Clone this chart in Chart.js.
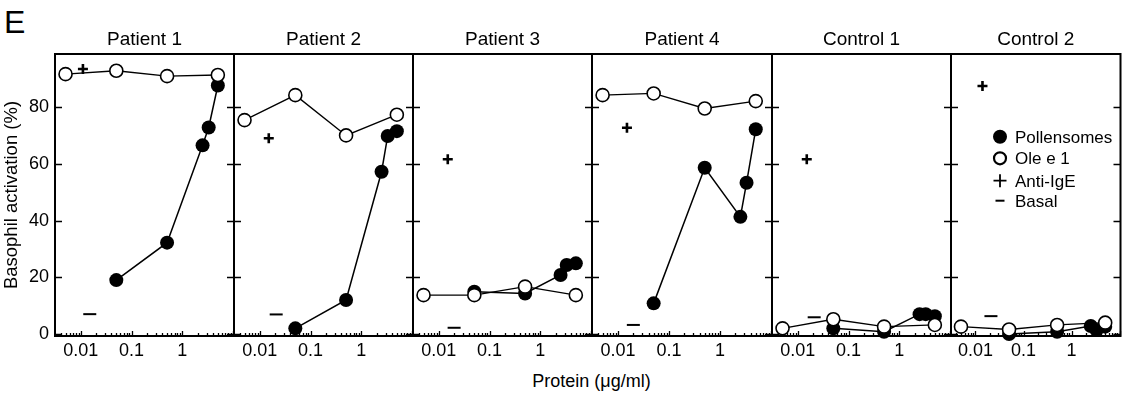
<!DOCTYPE html>
<html>
<head>
<meta charset="utf-8">
<script src="https://cdn.jsdelivr.net/npm/chart.js"></script>
<style>
  body { margin: 0; background: #fff; width: 1129px; height: 398px; overflow: hidden; position: relative;
         font-family: "Liberation Sans", Arial, sans-serif; color: #000; }
  canvas { position: absolute; left: 0; top: 0; }
  #panel-letter { position: absolute; left: 4px; top: 6px; font-size: 32px; line-height: 32px; }
  #x-title { position: absolute; left: 55px; width: 1073px; top: 372px; text-align: center; font-size: 18px; line-height: 18px; }
</style>
</head>
<body>
<div id="panel-letter">E</div>
<div id="x-title">Protein (μg/ml)</div>
<canvas id="p0" width="1129" height="398"></canvas>
<canvas id="p1" width="1129" height="398"></canvas>
<canvas id="p2" width="1129" height="398"></canvas>
<canvas id="p3" width="1129" height="398"></canvas>
<canvas id="p4" width="1129" height="398"></canvas>
<canvas id="p5" width="1129" height="398"></canvas>
<script>
// data
const panelNames = ['Patient 1', 'Patient 2', 'Patient 3', 'Patient 4', 'Control 1', 'Control 2'];
const oleDose = [0.005, 0.05, 0.5, 5];
const pollenDose = [0.05, 0.5, 2.5, 3.3, 5];
const oleValues = [
    [91.6, 92.8, 90.9, 91.3],
    [75.4, 84.2, 70.0, 77.3],
    [13.7, 13.7, 16.7, 13.7],
    [84.2, 84.8, 79.5, 82.1],
    [2.0, 5.2, 2.6, 3.2],
    [2.6, 1.6, 3.2, 4.0],
];
const pollenValues = [
    [19.0, 32.2, 66.5, 72.8, 87.6],
    [2.0, 12.0, 57.2, 69.8, 71.5],
    [14.9, 14.3, 20.8, 24.3, 24.9],
    [10.8, 58.6, 41.3, 53.3, 72.2],
    [2.0, 0.8, 7.0, 7.0, 6.3],
    [0.0, 0.8, 2.8, 1.4, 2.6],
];
const antiIgEDose = [0.011, 0.015, 0.015, 0.015, 0.015, 0.014];
const antiIgE = [93.4, 69.0, 61.6, 72.7, 61.6, 87.4];
const basalDose = [0.015, 0.021, 0.020, 0.020, 0.021, 0.021];
const basal = [7.0, 6.9, 2.2, 3.2, 5.9, 6.3];
const xTickLabels = [0.01, 0.1, 1];
const yTickLabels = [0, 20, 40, 60, 80];

// panel frames (px)
const panelLeft = [55, 234, 413, 592, 772, 951];
const panelRight = [234, 413, 592, 772, 951, 1128];

Chart.defaults.font.family = '"Liberation Sans", Arial, sans-serif';
Chart.defaults.color = '#000';

const frameAndTicks = {
    id: 'frameAndTicks',
    beforeDatasetsDraw(chart) {
        const {ctx, chartArea: a, scales: {x, y}} = chart;
        ctx.save();
        ctx.strokeStyle = '#000';
        ctx.lineWidth = 1.3;
        ctx.beginPath();
        yTickLabels.forEach(v => {
            const py = Math.round(y.getPixelForValue(v)) + 0.5;
            ctx.moveTo(a.left, py); ctx.lineTo(a.left + 7, py);
            ctx.moveTo(a.right, py); ctx.lineTo(a.right - 7, py);
        });
        for (let e = -3; e <= 1; e++) {
            for (let m = 1; m <= 9; m++) {
                const v = m * Math.pow(10, e);
                if (v < x.min || v > x.max) continue;
                const px = Math.round(x.getPixelForValue(v)) + 0.5;
                ctx.moveTo(px, a.bottom);
                ctx.lineTo(px, a.bottom - (m === 1 ? 5 : 3));
            }
        }
        ctx.stroke();
        ctx.lineWidth = 2;
        ctx.strokeRect(a.left, a.top, a.right - a.left, a.bottom - a.top);
        ctx.restore();
    }
};

// legend inside the last panel
const insideLegend = {
    id: 'insideLegend',
    afterDraw(chart) {
        if (!chart.options.plugins.insideLegend.show) return;
        const ctx = chart.ctx;
        const rows = [
            {text: 'Pollensomes', y: 136.7},
            {text: 'Ole e 1', y: 158.3},
            {text: 'Anti-IgE', y: 180.7},
            {text: 'Basal', y: 200.7},
        ];
        const sx = 1000;
        ctx.save();
        ctx.fillStyle = '#000';
        ctx.strokeStyle = '#000';
        ctx.beginPath(); ctx.arc(sx, rows[0].y, 7, 0, Math.PI * 2); ctx.fill();
        ctx.lineWidth = 2.2;
        ctx.beginPath(); ctx.arc(sx, rows[1].y, 6, 0, Math.PI * 2);
        ctx.fillStyle = '#fff'; ctx.fill(); ctx.stroke();
        ctx.lineWidth = 1.8;
        ctx.beginPath();
        ctx.moveTo(sx - 6.5, rows[2].y); ctx.lineTo(sx + 6.5, rows[2].y);
        ctx.moveTo(sx, rows[2].y - 6.5); ctx.lineTo(sx, rows[2].y + 6.5);
        ctx.stroke();
        ctx.lineWidth = 2;
        ctx.beginPath();
        ctx.moveTo(sx - 4.5, rows[3].y); ctx.lineTo(sx + 4.5, rows[3].y);
        ctx.stroke();
        ctx.fillStyle = '#000';
        ctx.font = '17px "Liberation Sans", Arial, sans-serif';
        ctx.textBaseline = 'alphabetic';
        rows.forEach(r => ctx.fillText(r.text, 1015, r.y + 6));
        ctx.restore();
    }
};

panelNames.forEach((name, i) => {
    const first = i === 0;
    new Chart(document.getElementById('p' + i), {
        type: 'line',
        data: {
            datasets: [
                {
                    label: 'Ole e 1',
                    data: oleDose.map((d, j) => ({x: d, y: oleValues[i][j]})),
                    borderColor: '#000',
                    borderWidth: 1.3,
                    pointRadius: 6.5,
                    pointBackgroundColor: '#fff',
                    pointBorderColor: '#000',
                    pointBorderWidth: 1.6,
                    order: 0,
                },
                {
                    label: 'Pollensomes',
                    data: pollenDose.map((d, j) => ({x: d, y: pollenValues[i][j]})),
                    borderColor: '#000',
                    borderWidth: 1.5,
                    pointRadius: 7,
                    pointBackgroundColor: '#000',
                    pointBorderColor: '#000',
                    pointBorderWidth: 0,
                    order: 1,
                },
                {
                    label: 'Anti-IgE',
                    data: [{x: antiIgEDose[i], y: antiIgE[i]}],
                    showLine: false,
                    pointStyle: 'cross',
                    pointRadius: 5,
                    pointBorderColor: '#000',
                    pointBorderWidth: 2.6,
                    order: 2,
                },
                {
                    label: 'Basal',
                    data: [{x: basalDose[i], y: basal[i]}],
                    showLine: false,
                    pointStyle: 'line',
                    pointRadius: 6.5,
                    pointBorderColor: '#000',
                    pointBorderWidth: 2,
                    order: 3,
                },
            ]
        },
        options: {
            responsive: false,
            animation: false,
            devicePixelRatio: 1,
            clip: false,
            layout: {
                padding: {left: first ? 0 : panelLeft[i], right: 1129 - panelRight[i], top: 28.2, bottom: 0}
            },
            plugins: {
                legend: {display: false},
                tooltip: {enabled: false},
                title: {
                    display: true,
                    text: name,
                    fullSize: false,
                    font: {size: 19, weight: 'normal'},
                    padding: {top: 0, bottom: 3},
                },
                insideLegend: {show: i === panelNames.length - 1},
            },
            scales: {
                x: {
                    type: 'logarithmic',
                    min: 0.0031,
                    max: 10.4,
                    grid: {display: false, drawTicks: false},
                    border: {display: false},
                    ticks: {
                        autoSkip: false,
                        maxRotation: 0,
                        padding: 4,
                        font: {size: 18},
                        callback: v => String(v),
                    },
                    afterBuildTicks: s => { s.ticks = xTickLabels.map(v => ({value: v})); },
                    afterFit: s => { s.height = 62; s.paddingLeft = 0; s.paddingRight = 0; },
                },
                y: {
                    display: first,
                    min: -0.7,
                    max: 98.7,
                    grid: {display: false, drawTicks: false},
                    border: {display: false},
                    ticks: {padding: 6, font: {size: 18}},
                    afterBuildTicks: s => { s.ticks = yTickLabels.map(v => ({value: v})); },
                    afterFit: s => { s.width = first ? 55 : 0; s.paddingTop = 0; s.paddingBottom = 0; },
                    title: {
                        display: true,
                        text: 'Basophil activation (%)',
                        font: {size: 18.5},
                        padding: {top: 1, bottom: 0},
                    },
                },
            },
        },
        plugins: [frameAndTicks, insideLegend],
    });
});
</script>
</body>
</html>
